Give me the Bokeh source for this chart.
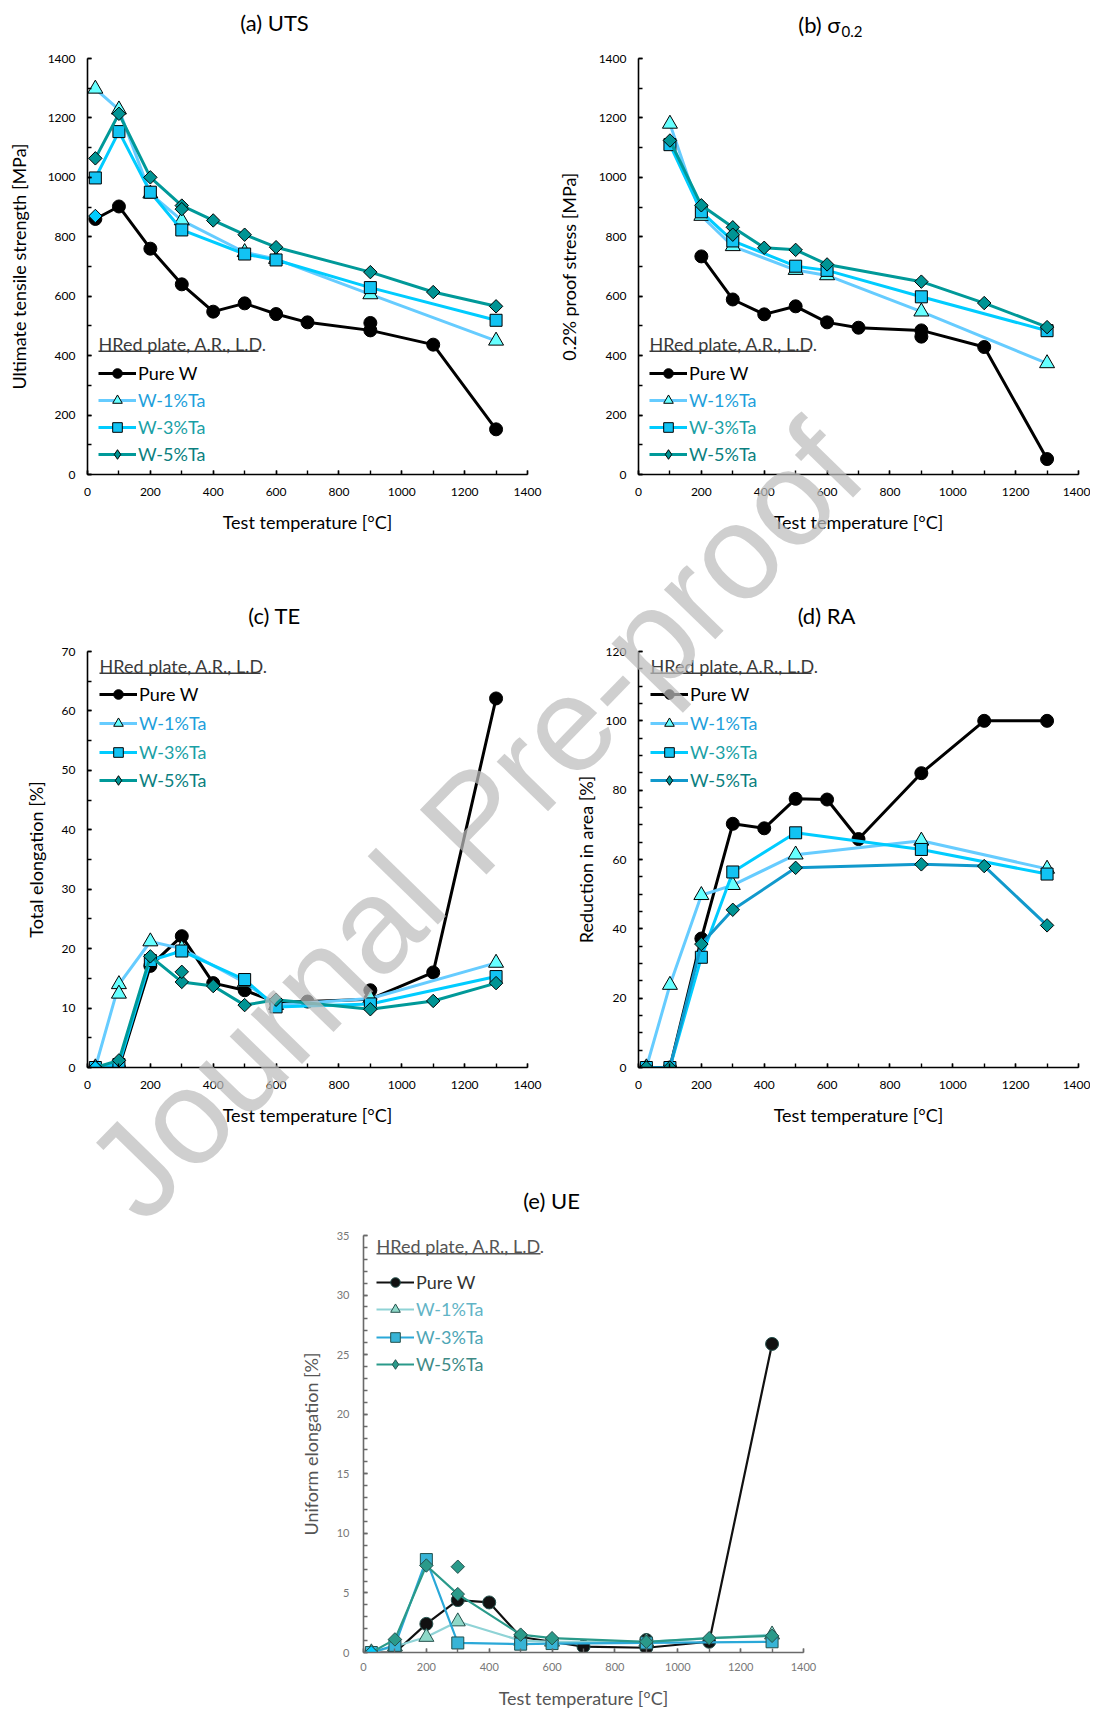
import math
from bokeh.plotting import figure
from bokeh.models import Range1d, SingleIntervalTicker, Legend, LegendItem, Label, BoxAnnotation
from bokeh.layouts import column, row
from bokeh.embed import file_html
from bokeh.resources import INLINE

FONT = "Lato"

# ---------------- data ----------------
T_PURE = [25, 100, 200, 300, 400, 500, 600, 700, 900, 1100, 1300]
T_TA13 = [25, 100, 200, 300, 500, 600, 900, 1300]
T_TA5 = [25, 100, 200, 300, 400, 500, 600, 900, 1100, 1300]
T_PURE_B = [200, 300, 400, 500, 600, 700, 900, 1100, 1300]
T_TA13_B = [100, 200, 300, 500, 600, 900, 1300]
T_TA5_B = [100, 200, 300, 400, 500, 600, 900, 1100, 1300]
T_TA5_E = [25, 100, 200, 300, 500, 600, 900, 1100, 1300]

# (a) UTS [MPa]
uts_pure = [860, 902, 760, 640, 548, 576, 540, 512, 485, 437, 152]
uts_w1 = [1298, 1228, 945, 855, 748, 725, 606, 450]
uts_w3 = [998, 1154, 950, 823, 742, 722, 629, 519]
uts_w5 = [1064, 1214, 1000, 905, 855, 807, 765, 681, 614, 566]
uts_pure_extra_T, uts_pure_extra = [900], [510]
uts_w5_extra_T, uts_w5_extra = [300], [893]
uts_rt_extra = [870]

# (b) 0.2% proof stress [MPa]
ps_pure = [734, 589, 539, 566, 512, 494, 485, 429, 52]
ps_w1 = [1180, 870, 768, 688, 670, 548, 374]
ps_w3 = [1110, 884, 786, 701, 687, 598, 484]
ps_w5 = [1124, 906, 832, 763, 756, 707, 649, 577, 496]
ps_pure_extra_T, ps_pure_extra = [900], [464]
ps_w5_extra_T, ps_w5_extra = [300], [807]

# (c) total elongation [%]
te_pure = [0, 0, 17.1, 22.1, 14.2, 13.0, 11.0, 11.1, 11.5, 16.0, 62.1]
te_w1 = [0, 14.0, 21.2, 20.0, 14.3, 10.5, 11.6, 17.6]
te_w3 = [0, 0.5, 18.0, 19.6, 14.8, 10.2, 10.7, 15.3]
te_w5 = [0, 1.2, 18.7, 14.4, 13.7, 10.5, 11.4, 9.8, 11.2, 14.2]
te_pure_extra_T, te_pure_extra = [900], [13.0]
te_w1_extra_T, te_w1_extra = [100], [12.4]
te_w5_extra_T, te_w5_extra = [300], [16.1]
te_rt_extra = [0]

# (d) reduction in area [%]
ra_pure = [0, 0, 37.2, 70.3, 69.0, 77.5, 77.3, 65.9, 84.9, 100, 100]
ra_w1 = [0, 23.8, 49.7, 52.6, 61.4, None, 65.4, 57.3]
ra_w3 = [0, 0, 31.8, 56.4, 67.7, None, 62.9, 55.8]
ra_w5 = [0, 0, 35.6, 45.5, None, 57.6, None, 58.6, 58.1, 41.0]

# (e) uniform elongation [%]
ue_pure = [0, 0, 2.4, 4.4, 4.2, 1.3, 0.9, 0.5, 0.4, 0.9, 25.9]
ue_w1 = [0, 0.5, 1.3, 2.6, 1.0, 0.9, 0.9, 1.5]
ue_w3 = [0, 0.6, 7.8, 0.8, 0.7, 0.75, 0.8, 0.9]
ue_w5 = [0, 1.1, 7.3, 4.9, 1.5, 1.2, 0.9, 1.2, 1.4]
ue_pure_extra_T, ue_pure_extra = [900], [1.05]
ue_w5_extra_T, ue_w5_extra = [300], [7.2]
ue_rt_extra = [0]

LEGEND_TITLE = "HRed plate, A.R., L.D."
NAMES = ["Pure W", "W-1%Ta", "W-3%Ta", "W-5%Ta"]
XLABEL = "Test temperature [°C]"
WATERMARK = "Journal Pre-proof"

# ---------------- styles ----------------
MAIN = dict(
    lines=["#000000", "#66CCFF", "#00CCFF", "#009999"],
    fills=["#000000", "#66FFFF", "#12C3F3", "#009494"],
    outline="#000000",
    texts=["#000000", "#1E9FDB", "#1A9FA5", "#0B7F80"],
    title_color="#3A3A3A", axis="#000000", tick_label="#000000", axis_label="#000000",
    lw=3, tick_font="12px",
)
FADED = dict(
    lines=["#111111", "#8FD3D6", "#2AA8D8", "#2A9A8A"],
    fills=["#111111", "#8ED8C8", "#38B4D6", "#2A9A8A"],
    outline="#24504C",
    texts=["#333333", "#62B4C6", "#4DA5B5", "#3E8A86"],
    title_color="#555555", axis="#6A6A6A", tick_label="#777777", axis_label="#555555",
    lw=2.2, tick_font="11px",
)
MARKERS = [("circle", 13, 0.0), ("triangle", 15, 0.0), ("square", 12, 0.0), ("square", 9.5, math.pi / 4)]

PAGE_W, PAGE_H = 1090, 1713


def strip(t, v):
    pts = [(a, b) for a, b in zip(t, v) if b is not None]
    return [a for a, _ in pts], [b for _, b in pts]


def make_panel(width, height, bl, br, bt, bb, ymax, yint, yminor, ylabel, series, extras,
               rt_extra, leg, sty, w5_line=None, xls=13, xas=12, yls=12, yas=16):
    p = figure(width=width, height=height, min_border_left=bl, min_border_right=br,
               min_border_top=bt, min_border_bottom=bb, x_range=Range1d(0, 1400),
               y_range=Range1d(0, ymax), output_backend="svg", toolbar_location=None,
               title=None)
    p.background_fill_color = "white"
    p.border_fill_color = "white"
    p.outline_line_color = None
    p.xgrid.visible = False
    p.ygrid.visible = False
    p.xaxis.ticker = SingleIntervalTicker(interval=200, num_minor_ticks=2)
    p.yaxis.ticker = SingleIntervalTicker(interval=yint, num_minor_ticks=yminor)
    for ax in (p.xaxis[0], p.yaxis[0]):
        ax.axis_line_color = sty["axis"]
        ax.axis_line_width = 1.6
        ax.major_tick_line_color = sty["axis"]
        ax.minor_tick_line_color = sty["axis"]
        ax.major_tick_line_width = 1.4
        ax.minor_tick_line_width = 1.4
        ax.major_tick_in = 4
        ax.major_tick_out = 0
        ax.minor_tick_in = 4
        ax.minor_tick_out = 0
        ax.major_label_text_font = FONT
        ax.major_label_text_font_size = sty["tick_font"]
        ax.major_label_text_color = sty["tick_label"]
        ax.axis_label_text_font = FONT
        ax.axis_label_text_font_size = "18px"
        ax.axis_label_text_font_style = "normal"
        ax.axis_label_text_color = sty["axis_label"]
    p.xaxis.axis_label = XLABEL
    p.yaxis.axis_label = ylabel
    p.xaxis.major_label_standoff = xls
    p.xaxis.axis_label_standoff = xas
    p.yaxis.major_label_standoff = yls
    p.yaxis.axis_label_standoff = yas

    leg_renderers = []
    for i, (t, v) in enumerate(series):
        tt, vv = strip(t, v)
        lc = sty["lines"][i]
        if i == 3 and w5_line:
            lc = w5_line
        lr = p.line(tt, vv, line_color=lc, line_width=sty["lw"])
        mk, sz, ang = MARKERS[i]
        sr = p.scatter(tt, vv, marker=mk, size=sz, angle=ang, fill_color=sty["fills"][i],
                       line_color=sty["outline"], line_width=1)
        ex = extras.get(i)
        if ex:
            p.scatter(ex[0], ex[1], marker=mk, size=sz, angle=ang, fill_color=sty["fills"][i],
                      line_color=sty["outline"], line_width=1)
        if i == 3:
            hid = p.scatter([0], [0], marker="diamond", size=sz, fill_color=sty["fills"][i],
                            line_color=sty["outline"], line_width=1, visible=False)
            leg_renderers.append([lr, hid])
        else:
            leg_renderers.append([lr, sr])
    if rt_extra is not None:
        mk, sz, ang = MARKERS[3]
        p.scatter([25] * len(rt_extra), rt_extra, marker=mk, size=sz, angle=ang,
                  fill_color="#00CCFF", line_color=sty["outline"], line_width=1)

    # legend: one Legend per entry so that each label keeps its own colour
    lx, centers, tcy, uy, uw = leg
    gh = 24
    for i in range(4):
        lg = Legend(items=[LegendItem(label=NAMES[i], renderers=leg_renderers[i])],
                    location=(lx, centers[i] - gh / 2), padding=0, margin=0, spacing=0,
                    glyph_width=38, glyph_height=gh, label_height=gh, label_standoff=2,
                    label_text_font=FONT, label_text_font_size="18px",
                    label_text_color=sty["texts"][i], border_line_alpha=0,
                    background_fill_alpha=0)
        p.add_layout(lg, "center")
    p.add_layout(Label(x=lx, y=tcy, x_units="screen", y_units="screen", text=LEGEND_TITLE,
                       text_font=FONT, text_font_size="18px", text_color=sty["title_color"],
                       text_align="left", text_baseline="middle"))
    p.add_layout(BoxAnnotation(left=lx, right=lx + uw, bottom=uy - 0.7, top=uy + 0.7,
                               left_units="screen", right_units="screen",
                               bottom_units="screen", top_units="screen",
                               fill_color=sty["title_color"], fill_alpha=1, line_alpha=0))
    return p


LEG_AB = (11, [101.3, 74.0, 46.7, 20.0], 130.7, 123.3, 160)
LEG_CD = (12, [372.9, 343.6, 314.9, 286.7], 401.8, 394.2, 161)
LEG_E = (13, [370.3, 342.7, 315.3, 288.0], 407.0, 398.7, 164)

pa = make_panel(552, 560, 87, 25, 58, 86, 1400, 200, 2, "Ultimate tensile strength [MPa]",
                [(T_PURE, uts_pure), (T_TA13, uts_w1), (T_TA13, uts_w3), (T_TA5, uts_w5)],
                {0: (uts_pure_extra_T, uts_pure_extra), 3: (uts_w5_extra_T, uts_w5_extra)},
                uts_rt_extra, LEG_AB, MAIN, yas=15)

pb = make_panel(538, 560, 86, 12, 58, 86, 1400, 200, 2, "0.2% proof stress [MPa]",
                [(T_PURE_B, ps_pure), (T_TA13_B, ps_w1), (T_TA13_B, ps_w3), (T_TA5_B, ps_w5)],
                {0: (ps_pure_extra_T, ps_pure_extra), 3: (ps_w5_extra_T, ps_w5_extra)},
                None, LEG_AB, MAIN, yas=16)

pc = make_panel(552, 590, 87, 25, 91, 83, 70, 10, 2, "Total elongation [%]",
                [(T_PURE, te_pure), (T_TA13, te_w1), (T_TA13, te_w3), (T_TA5, te_w5)],
                {0: (te_pure_extra_T, te_pure_extra), 1: (te_w1_extra_T, te_w1_extra),
                 3: (te_w5_extra_T, te_w5_extra)},
                te_rt_extra, LEG_CD, MAIN, yas=12)

pd = make_panel(538, 590, 86, 12, 91, 83, 120, 20, 4, "Reduction in area [%]",
                [(T_PURE, ra_pure), (T_TA13, ra_w1), (T_TA13, ra_w3), (T_TA5, ra_w5)],
                {}, None, LEG_CD, MAIN, w5_line="#1199CC", yas=6)

pe = make_panel(825, 563, 363, 22, 85, 61, 35, 5, 5, "Uniform elongation [%]",
                [(T_PURE, ue_pure), (T_TA13, ue_w1), (T_TA13, ue_w3), (T_TA5_E, ue_w5)],
                {0: (ue_pure_extra_T, ue_pure_extra), 3: (ue_w5_extra_T, ue_w5_extra)},
                ue_rt_extra, LEG_E, FADED, xls=10, xas=13, yls=14, yas=12)

# ---- transparent overlay for panel titles and the watermark (page pixel coords) ----
ov = figure(width=PAGE_W, height=PAGE_H, x_range=Range1d(0, PAGE_W), y_range=Range1d(0, PAGE_H),
            min_border=0, output_backend="svg", toolbar_location=None, x_axis_type=None,
            y_axis_type=None, title=None,
            styles={"position": "absolute", "left": "0px", "top": "0px",
                    "pointer-events": "none", "z-index": "5"})
ov.outline_line_color = None
ov.background_fill_alpha = 0
ov.border_fill_alpha = 0
ov.xgrid.visible = False
ov.ygrid.visible = False

TITLES = [
    (274, 22.4, "(a) UTS", "22px", "center"),
    (840, 24.3, "(b) σ", "22px", "right"),
    (841, 31.0, "0.2", "15px", "left"),
    (274, 615, "(c) TE", "22px", "center"),
    (826, 615, "(d) RA", "22px", "center"),
    (551, 1200, "(e) UE", "22px", "center"),
]
for tx, ty, txt, size, align in TITLES:
    ov.add_layout(Label(x=tx, y=PAGE_H - ty, x_units="screen", y_units="screen", text=txt,
                        text_font=FONT, text_font_size=size, text_color="black",
                        text_align=align, text_baseline="middle"))

WM_X, WM_Y, WM_ANGLE = 110, 1194, math.radians(45.8)
ov.add_layout(Label(x=WM_X, y=PAGE_H - WM_Y, x_units="screen", y_units="screen",
                    text=WATERMARK, angle=WM_ANGLE, text_font="Liberation Sans",
                    text_font_size="135px", text_color="#BDBDBD", text_alpha=0.72,
                    text_align="left", text_baseline="alphabetic"))

layout = column(row(pa, pb), row(pc, pd), row(pe), ov)
open("out.html", "w").write(file_html(layout, INLINE))
